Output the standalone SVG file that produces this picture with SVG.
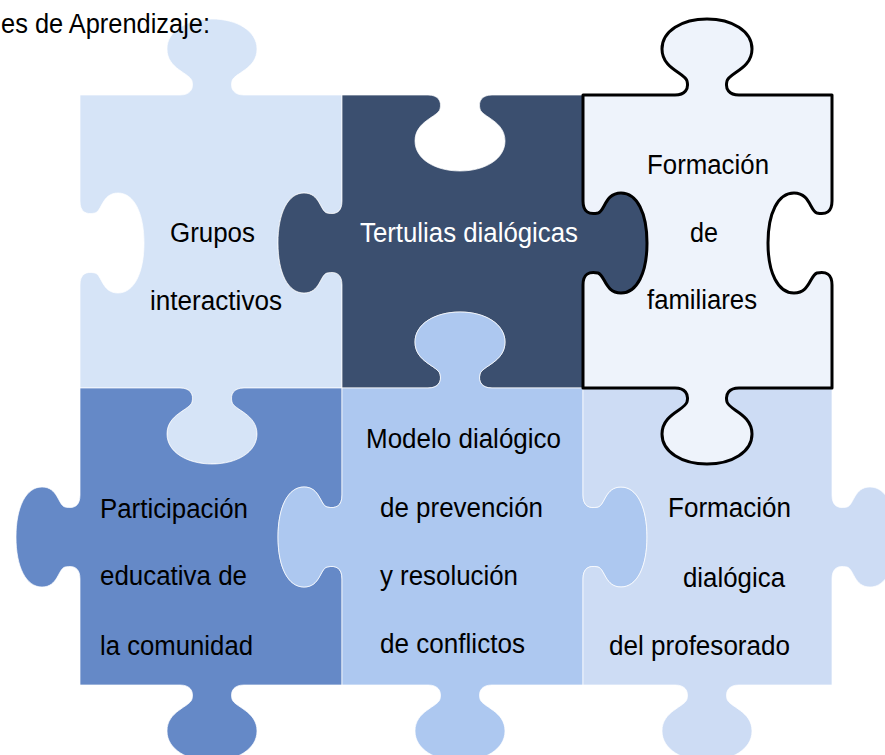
<svg xmlns="http://www.w3.org/2000/svg" width="885" height="755" viewBox="0 0 885 755">
<style>
text{font-family:"Liberation Sans",Arial,sans-serif;font-size:27px;fill:#000}
.wt{fill:#fff}
.pc{stroke:#ffffff;stroke-width:1;stroke-opacity:0.7}
</style>
<rect width="885" height="755" fill="#ffffff"/>
<g id="connectors"></g>
<g id="p1">
<path class="pc" fill="#d6e4f7" d="M80,95 L180,95 c10,0 14,-6 12,-14 c-2,-8 -25,-12 -25,-32 c0,-18 20,-30 45,-30 c25,0 45,12 45,30 c0,20 -23,24 -25,32 c-2,8 2,14 12,14 L342,95 L342,201 c0,11 -6,14 -15,12 c-7,-2 -7,-20 -23,-20 c-16,0 -26,20 -26,50 c0,30 10,50 26,50 c16,0 16,-18 23,-20 c9,-2 15,1 15,12 L342,388 L244,388 c-10,0 -14,6 -12,14 c2,8 25,12 25,32 c0,18 -20,30 -45,30 c-25,0 -45,-12 -45,-30 c0,-20 23,-24 25,-32 c2,-8 -2,-14 -12,-14 L80,388 L80,285 c0,-11 6,-14 15,-12 c7,2 7,20 23,20 c16,0 26,-20 26,-50 c0,-30 -10,-50 -26,-50 c-16,0 -16,18 -23,20 c-9,2 -15,-1 -15,-12 Z"/>
<text x="170" y="242" textLength="85" lengthAdjust="spacingAndGlyphs">Grupos</text>
<text x="150" y="310" textLength="132" lengthAdjust="spacingAndGlyphs">interactivos</text>
</g>
<g id="p2">
<path class="pc" fill="#3b4f6f" d="M342,95 L428,95 c10,0 14,6 12,14 c-2,8 -25,12 -25,32 c0,18 20,30 45,30 c25,0 45,-12 45,-30 c0,-20 -23,-24 -25,-32 c-2,-8 2,-14 12,-14 L583,95 L583,201 c0,11 6,14 15,12 c7,-2 7,-20 23,-20 c16,0 26,20 26,50 c0,30 -10,50 -26,50 c-16,0 -16,-18 -23,-20 c-9,-2 -15,1 -15,12 L583,388 L492,388 c-10,0 -14,-6 -12,-14 c2,-8 25,-12 25,-32 c0,-18 -20,-30 -45,-30 c-25,0 -45,12 -45,30 c0,20 23,24 25,32 c2,8 -2,14 -12,14 L342,388 L342,285 c0,-11 -6,-14 -15,-12 c-7,2 -7,20 -23,20 c-16,0 -26,-20 -26,-50 c0,-30 10,-50 26,-50 c16,0 16,18 23,20 c9,2 15,-1 15,-12 Z"/>
<text class="wt" x="360" y="242" textLength="218" lengthAdjust="spacingAndGlyphs">Tertulias dialógicas</text>
</g>
<g id="p4">
<path class="pc" fill="#6589c7" d="M80,388 L180,388 c10,0 14,6 12,14 c-2,8 -25,12 -25,32 c0,18 20,30 45,30 c25,0 45,-12 45,-30 c0,-20 -23,-24 -25,-32 c-2,-8 2,-14 12,-14 L342,388 L342,495 c0,11 -6,14 -15,12 c-7,-2 -7,-20 -23,-20 c-16,0 -26,20 -26,50 c0,30 10,50 26,50 c16,0 16,-18 23,-20 c9,-2 15,1 15,12 L342,685 L244,685 c-10,0 -14,6 -12,14 c2,8 25,12 25,32 c0,18 -20,30 -45,30 c-25,0 -45,-12 -45,-30 c0,-20 23,-24 25,-32 c2,-8 -2,-14 -12,-14 L80,685 L80,579 c0,-11 -6,-14 -15,-12 c-7,2 -7,20 -23,20 c-16,0 -26,-20 -26,-50 c0,-30 10,-50 26,-50 c16,0 16,18 23,20 c9,2 15,-1 15,-12 Z"/>
<text x="100" y="518" textLength="148" lengthAdjust="spacingAndGlyphs">Participación</text>
<text x="100" y="585" textLength="147" lengthAdjust="spacingAndGlyphs">educativa de</text>
<text x="100" y="655" textLength="153" lengthAdjust="spacingAndGlyphs">la comunidad</text>
</g>
<g id="p5">
<path class="pc" fill="#adc8f0" d="M342,388 L428,388 c10,0 14,-6 12,-14 c-2,-8 -25,-12 -25,-32 c0,-18 20,-30 45,-30 c25,0 45,12 45,30 c0,20 -23,24 -25,32 c-2,8 2,14 12,14 L583,388 L583,495 c0,11 6,14 15,12 c7,-2 7,-20 23,-20 c16,0 26,20 26,50 c0,30 -10,50 -26,50 c-16,0 -16,-18 -23,-20 c-9,-2 -15,1 -15,12 L583,685 L492,685 c-10,0 -14,6 -12,14 c2,8 25,12 25,32 c0,18 -20,30 -45,30 c-25,0 -45,-12 -45,-30 c0,-20 23,-24 25,-32 c2,-8 -2,-14 -12,-14 L342,685 L342,579 c0,-11 -6,-14 -15,-12 c-7,2 -7,20 -23,20 c-16,0 -26,-20 -26,-50 c0,-30 10,-50 26,-50 c16,0 16,18 23,20 c9,2 15,-1 15,-12 Z"/>
<text x="366" y="448" textLength="195" lengthAdjust="spacingAndGlyphs">Modelo dialógico</text>
<text x="380" y="517" textLength="163" lengthAdjust="spacingAndGlyphs">de prevención</text>
<text x="380" y="585" textLength="138" lengthAdjust="spacingAndGlyphs">y resolución</text>
<text x="380" y="653" textLength="145" lengthAdjust="spacingAndGlyphs">de conflictos</text>
</g>
<g id="p6">
<path class="pc" fill="#cddcf4" d="M583,388 L675,388 c10,0 14,6 12,14 c-2,8 -25,12 -25,32 c0,18 20,30 45,30 c25,0 45,-12 45,-30 c0,-20 -23,-24 -25,-32 c-2,-8 2,-14 12,-14 L832,388 L832,495 c0,11 6,14 15,12 c7,-2 7,-20 23,-20 c16,0 26,20 26,50 c0,30 -10,50 -26,50 c-16,0 -16,-18 -23,-20 c-9,-2 -15,1 -15,12 L832,685 L739,685 c-10,0 -14,6 -12,14 c2,8 25,12 25,32 c0,18 -20,30 -45,30 c-25,0 -45,-12 -45,-30 c0,-20 23,-24 25,-32 c2,-8 -2,-14 -12,-14 L583,685 L583,579 c0,-11 6,-14 15,-12 c7,2 7,20 23,20 c16,0 26,-20 26,-50 c0,-30 -10,-50 -26,-50 c-16,0 -16,18 -23,20 c-9,2 -15,-1 -15,-12 Z"/>
<text x="668" y="517" textLength="123" lengthAdjust="spacingAndGlyphs">Formación</text>
<text x="683" y="587" textLength="102" lengthAdjust="spacingAndGlyphs">dialógica</text>
<text x="609" y="655" textLength="181" lengthAdjust="spacingAndGlyphs">del profesorado</text>
</g>
<g id="p3">
<path fill="#eef3fb" stroke="#000" stroke-width="3" stroke-linejoin="round" d="M583,95 L675,95 c10,0 14,-6 12,-14 c-2,-8 -25,-12 -25,-32 c0,-18 20,-30 45,-30 c25,0 45,12 45,30 c0,20 -23,24 -25,32 c-2,8 2,14 12,14 L832,95 L832,201 c0,11 -6,14 -15,12 c-7,-2 -7,-20 -23,-20 c-16,0 -26,20 -26,50 c0,30 10,50 26,50 c16,0 16,-18 23,-20 c9,-2 15,1 15,12 L832,388 L739,388 c-10,0 -14,6 -12,14 c2,8 25,12 25,32 c0,18 -20,30 -45,30 c-25,0 -45,-12 -45,-30 c0,-20 23,-24 25,-32 c2,-8 -2,-14 -12,-14 L583,388 L583,285 c0,-11 6,-14 15,-12 c7,2 7,20 23,20 c16,0 26,-20 26,-50 c0,-30 -10,-50 -26,-50 c-16,0 -16,18 -23,20 c-9,2 -15,-1 -15,-12 Z"/>
<text x="647" y="174" textLength="122" lengthAdjust="spacingAndGlyphs">Formación</text>
<text x="690" y="242" textLength="28" lengthAdjust="spacingAndGlyphs">de</text>
<text x="647" y="309" textLength="110" lengthAdjust="spacingAndGlyphs">familiares</text>
</g>
<text x="1" y="33" textLength="209" lengthAdjust="spacingAndGlyphs">es de Aprendizaje:</text>
</svg>
